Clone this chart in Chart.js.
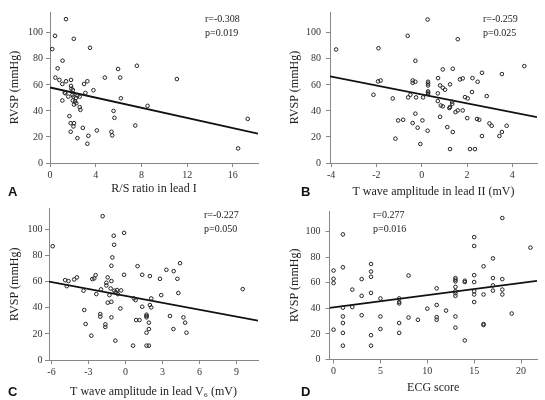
<!DOCTYPE html>
<html>
<head>
<meta charset="utf-8">
<script src="https://cdn.jsdelivr.net/npm/chart.js@4"></script>
<style>
  body { margin: 0; background: #fff; width: 545px; height: 400px; position: relative; overflow: hidden; }
  canvas { position: absolute; }
  .tag { position: absolute; font: bold 13px "Liberation Sans", Arial, sans-serif; line-height: 13px; color: #111; }
  .stat { position: absolute; font: 10px "Liberation Serif", serif; line-height: 14px; color: #222; white-space: nowrap; }
</style>
</head>
<body>
<canvas id="cA" width="272" height="200" style="left:0;top:0"></canvas>
<canvas id="cB" width="275" height="200" style="left:270px;top:0"></canvas>
<canvas id="cC" width="272" height="200" style="left:0;top:200px"></canvas>
<canvas id="cD" width="275" height="200" style="left:270px;top:200px"></canvas>

<div class="tag" style="left:8px;top:185px">A</div>
<div class="tag" style="left:301px;top:185px">B</div>
<div class="tag" style="left:8px;top:385px">C</div>
<div class="tag" style="left:301px;top:385px">D</div>

<div class="stat" style="left:205px;top:12px">r=-0.308<br>p=0.019</div>
<div class="stat" style="left:483px;top:12px">r=-0.259<br>p=0.025</div>
<div class="stat" style="left:204px;top:208px">r=-0.227<br>p=0.050</div>
<div class="stat" style="left:373px;top:208px">r=0.277<br>p=0.016</div>

<script>
// shared y axis
const yTicks = [0, 20, 40, 60, 80, 100];

// A: R/S ratio in lead I
const aTicks = [0, 4, 8, 12, 16];
const aX = [1.4,0.44,2.08,0.2,3.5,1.1,0.67,0.47,0.82,1.4,1.08,1.84,3.27,2.98,1.84,1.87,2.0,1.29,1.34,3.8,
  3.1,1.96,1.6,2.05,2.4,2.6,2.28,1.99,2.19,1.08,2.1,2.3,2.6,2.66,1.7,1.81,2.1,2.05,2.87,1.81,
  4.1,2.4,3.36,3.27,4.8,5.96,7.6,6.14,5.56,5.64,6.2,5.38,5.44,7.46,8.54,11.1,17.3,16.46];
const aY = [110.5,97.7,95.4,87.5,88.5,78.6,72.7,65.6,63.8,62.8,60.7,63.8,62.8,60.7,59.2,57.1,56.1,54.1,53.6,55.9,
  53.8,52.3,51,51,51.8,51,50,48,47.2,48,44.9,45.9,42.9,40.8,36,30.6,30.6,28.1,27,24,
  25,19.1,20.9,14.8,65.6,72.2,74.7,65.6,40,34.7,49.7,24,21.2,28.8,43.9,64.5,33.9,11.2];
const aLineX = [0, 18.2];
const aLineY = [58, 22.5];

// B: T wave amplitude in lead II
const bTicks = [-4, -2, 0, 2, 4];
const bX = [0.26,-0.62,1.59,-3.78,-1.91,-0.28,0.93,1.37,4.53,-1.93,-1.81,-0.4,-0.28,-0.4,0.28,0.28,0.28,0.28,0.28,0.28,
  0.72,0.81,0.93,1.03,1.25,1.69,1.81,2.24,2.47,2.66,3.54,2.22,-2.13,-1.28,-0.6,-0.5,-0.25,0.06,0.71,0.71,
  0.84,0.93,1.25,1.34,1.35,1.49,1.59,1.81,1.91,2.03,2.87,-0.28,0.81,1.22,-1.04,-0.82,-0.4,0.03,-0.18,0.26,
  1.13,1.37,-1.16,-0.06,1.25,2.13,2.35,2.01,2.44,2.54,2.99,3.09,2.66,3.43,3.54,3.75];
const bY = [110.2,97.7,95.1,87.2,88.2,78.5,71.9,72.4,74.4,62.7,63.4,63.4,62.4,61.6,62.4,61,59.6,55,54,53,
  65.2,59.6,57.8,56.3,60.4,64.2,65,65.2,62.4,69.3,68.3,54.5,52.4,49.6,50.4,52.4,50.4,50.4,53.5,47.6,
  44.2,43.5,43,47.1,45.5,39.1,40.4,40.4,50.6,49.6,51.4,37.9,35.5,42.2,32.7,33.2,30.7,32.7,27.1,24.8,
  27.6,23.8,18.7,14.6,10.7,10.7,10.7,34.5,33.8,33.2,30.4,28.6,20.7,20.7,23.8,28.6];
const bLineX = [-4.05, 5.09];
const bLineY = [66.5, 35.3];

// C: T wave amplitude in lead V6
const cTicks = [-6, -3, 0, 3, 6, 9];
const cX = [-1.85,-5.9,-0.11,-0.95,-0.92,-1.06,-1.14,0.98,3.32,3.91,4.43,-0.11,1.36,1.98,2.8,4.21,4.29,-2.42,-2.53,-2.69,
  -3.94,-4.16,-4.89,-4.62,-4.76,-3.4,-1.44,-1.55,-1.55,-1.14,-1.98,-1.2,-0.9,-0.68,-0.35,-0.79,-0.62,-1.3,-2.36,-1.14,
  -1.44,-0.41,2.9,0.68,0.82,2.09,1.98,2.09,1.36,-3.34,-1.14,-2.04,-2.04,0.87,1.14,1.71,1.71,1.71,3.61,4.7,
  4.84,1.9,-3.23,-1.63,-1.63,1.9,3.89,1.71,4.95,-2.77,-0.82,0.62,1.71,1.9,9.51];
const cY = [110.2,87.2,97.4,95.2,88.3,78.6,72.2,71.9,69.1,68.1,74.2,65.3,65.3,64.3,62.2,62.2,51.3,65,62.5,62,
  63.3,61.7,61.2,60.5,56.6,53.1,63.3,59.2,57.1,60.5,54.1,54.8,53.1,53.6,53.3,52,50.5,49.7,50.5,44.6,
  43.9,39.5,49.7,47.2,45.9,47.2,42.1,40.3,40.8,38.3,32.7,35.2,33.2,30.6,30.6,34.7,33.7,32.7,33.7,32.7,
  28.6,28.6,27.6,27.3,25.3,23.7,23.7,20.9,20.9,18.6,14.8,11,11,11,54.3];
const cLineX = [-6.2, 10.75];
const cLineY = [60, 30.1];

// D: ECG score
const dTicks = [0, 5, 10, 15, 20];
const dX = [0,0,0,0, 1,1,1,1,1,1,1, 2,2, 3,3,3, 4,4,4,4,4,4, 5,5,5, 7,7,7,7,7, 8,8, 9, 10,
  11,11,11,11, 12, 13,13,13,13,13,13,13,13,13, 14,14,14, 15,15,15,15,15,15,15,
  16,16,16,16, 17,17,17,17, 18,18,18,18, 19, 21];
const dY = [69.5,63,59.7,23.3, 97.7,72,40.5,33.6,28.5,20.8,10.8, 54.6,41, 62.8,49.7,34.6,
  74.6,68.7,64.6,52,19,10.8, 47.7,33.6,23.8, 47.7,44.9,43.8,28.5,20.8, 65.6,32.8, 31, 39.7,
  55.6,42.6,33.1,31, 38.2, 63.6,62.3,61,56.7,53.3,51.8,49.7,33.6,24.9, 61.5,60.5,14.9,
  95.6,88.7,65.9,60.5,53.3,50.8,44.9, 72.8,50.8,27.7,26.9, 79,63.6,57.9,53.8,
  110.5,62.8,54.6,50.8, 35.9, 87.4];
const dLineX = [-0.43, 21.7];
const dLineY = [40.3, 61.5];

const serif = '"Liberation Serif", "Times New Roman", serif';
const tickFont = { family: serif, size: 10 };
const titleFont = { family: serif, size: 12 };

function pairs(xs, ys) {
  return xs.map((x, i) => ({ x: x, y: ys[i] }));
}

function panel(id, xs, ys, lx, ly, xTicks, xMin, xMax, xTitle, g) {
  return new Chart(document.getElementById(id), {
    type: 'scatter',
    data: {
      datasets: [{
        data: pairs(xs, ys),
        pointRadius: 1.8,
        pointHoverRadius: 1.8,
        pointBorderWidth: 1,
        borderColor: '#222',
        backgroundColor: 'rgba(0,0,0,0)'
      }, {
        data: pairs(lx, ly),
        showLine: true,
        pointRadius: 0,
        borderColor: '#111',
        borderWidth: 1.8
      }]
    },
    options: {
      responsive: false,
      animation: false,
      devicePixelRatio: 1,
      events: [],
      layout: { padding: { top: g.top, right: g.right, left: 0, bottom: 0 } },
      plugins: { legend: { display: false }, tooltip: { enabled: false } },
      scales: {
        x: {
          type: 'linear',
          min: xMin,
          max: xMax,
          afterBuildTicks: s => { s.ticks = xTicks.map(v => ({ value: v })); },
          afterFit: s => { s.height = g.xh; },
          grid: { drawOnChartArea: false, tickLength: 4, color: '#888' },
          border: { color: '#888', width: 1 },
          ticks: { font: tickFont, color: '#333', padding: 2, maxRotation: 0, autoSkip: false },
          title: { display: true, text: xTitle, font: titleFont, color: '#222', padding: { top: 0, bottom: g.xtp } }
        },
        y: {
          type: 'linear',
          min: 0,
          max: 116,
          afterBuildTicks: s => { s.ticks = yTicks.map(v => ({ value: v })); },
          afterFit: s => { s.width = g.yw; },
          grid: { drawOnChartArea: false, tickLength: 4, color: '#888' },
          border: { color: '#888', width: 1 },
          ticks: { font: tickFont, color: '#333', padding: g.ypad, autoSkip: false },
          title: { display: true, text: 'RVSP (mmHg)', font: titleFont, color: '#222', padding: { top: g.ytp, bottom: 0 } }
        }
      }
    }
  });
}

panel('cA', aX, aY, aLineX, aLineY, aTicks, 0, 18.2, 'R/S ratio in lead I',
  { top: 12, right: 14, yw: 50, xh: 37, ypad: 3, ytp: 8, xtp: 4 });
panel('cB', bX, bY, bLineX, bLineY, bTicks, -4.05, 5.09, 'T wave amplitude in lead II (mV)',
  { top: 12, right: 8, yw: 60, xh: 37, ypad: 5, ytp: 17.5, xtp: 1 });
panel('cC', cX, cY, cLineX, cLineY, cTicks, -6.2, 10.75, 'T wave amplitude in lead V\u2086 (mV)',
  { top: 8, right: 14, yw: 49, xh: 40, ypad: 2.6, ytp: 8, xtp: 1 });
panel('cD', dX, dY, dLineX, dLineY, dTicks, -0.43, 21.7, 'ECG score',
  { top: 7.5, right: 8, yw: 59.5, xh: 40.5, ypad: 5, ytp: 17.5, xtp: 5 });
</script>
</body>
</html>
